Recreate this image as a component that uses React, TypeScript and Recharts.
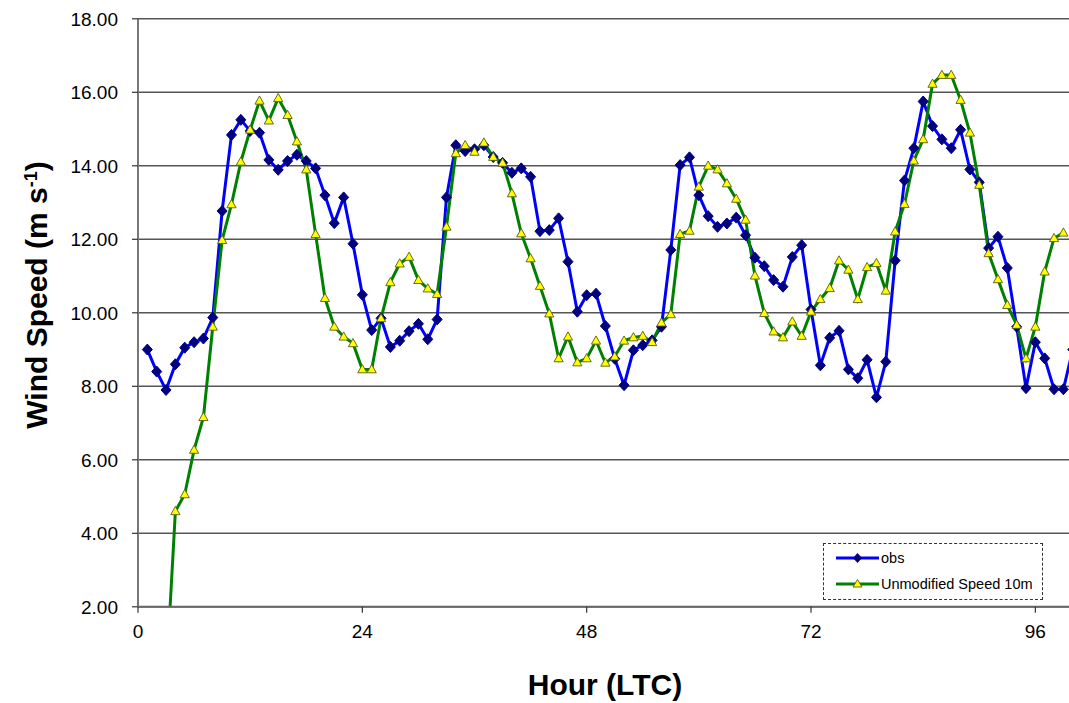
import { LineChart, Line, XAxis, YAxis, CartesianGrid } from 'recharts';

// hourly wind speed (m/s), obs starts at hour 1
const obsSpeed = [
  9.0, 8.4, 7.9, 8.6, 9.05, 9.2, 9.3, 9.87, 12.77, 14.84,
  15.25, 14.95, 14.9, 14.16, 13.89, 14.13, 14.3, 14.13, 13.93, 13.2,
  12.44, 13.14, 11.88, 10.49, 9.53, 9.85, 9.07, 9.24, 9.5, 9.7,
  9.28, 9.82, 13.14, 14.56, 14.4, 14.45, 14.56, 14.24, 14.08, 13.81,
  13.93, 13.7, 12.22, 12.25, 12.57, 11.39, 10.03, 10.48, 10.52, 9.64,
  8.75, 8.03, 8.98, 9.12, 9.25, 9.62, 11.71, 14.02, 14.23, 13.2,
  12.63, 12.34, 12.43, 12.59, 12.11, 11.5, 11.27, 10.89, 10.71, 11.52,
  11.84, 10.09, 8.57, 9.32, 9.51, 8.46, 8.22, 8.72, 7.7, 8.67,
  11.42, 13.6, 14.48, 15.75, 15.08, 14.72, 14.48, 14.98, 13.9, 13.55,
  11.76, 12.07, 11.22, 9.62, 7.95, 9.2, 8.76, 7.92, 7.92, 9.0,
];

// model run (spin-up from hour 3)
const modelSpeed = [
  null, null, 0, 4.6, 5.06, 6.27, 7.16, 9.62, 11.98, 12.95,
  14.11, 14.98, 15.77, 15.23, 15.84, 15.38, 14.66, 13.9, 12.14, 10.4,
  9.62, 9.35, 9.17, 8.46, 8.46, 9.85, 10.83, 11.34, 11.52, 10.89,
  10.66, 10.51, 12.34, 14.34, 14.56, 14.38, 14.63, 14.24, 14.08, 13.25,
  12.16, 11.48, 10.73, 9.98, 8.76, 9.35, 8.65, 8.76, 9.24, 8.64,
  8.81, 9.24, 9.33, 9.37, 9.2, 9.73, 9.96, 12.14, 12.23, 13.43,
  14.0, 13.9, 13.52, 13.1, 12.53, 11.01, 9.99, 9.49, 9.33, 9.76,
  9.37, 10.03, 10.37, 10.67, 11.42, 11.17, 10.37, 11.24, 11.35, 10.6,
  12.21, 12.96, 14.14, 14.72, 16.23, 16.47, 16.47, 15.79, 14.9, 13.48,
  11.62, 10.91, 10.21, 9.67, 8.76, 9.62, 11.12, 12.03, 12.18, null,
];

const hourTicks = [0, 24, 48, 72, 96];
const speedTicks = [2, 4, 6, 8, 10, 12, 14, 16, 18];

const hours = obsSpeed.map((_, i) => i + 1);
const data = hours.map((hour, i) => ({ hour, obs: obsSpeed[i], model: modelSpeed[i] }));

const FONT = '"Liberation Sans", Arial, Helvetica, sans-serif';

function Diamond(props: any) {
  const { cx, cy, index } = props;
  if (cx == null || cy == null) return <g key={`o-${index}`} />;
  return (
    <path
      key={`o-${index}`}
      d={`M${cx},${cy - 5.5}L${cx + 5},${cy}L${cx},${cy + 5.5}L${cx - 5},${cy}Z`}
      fill="#000080"
      stroke="#000080"
      strokeWidth={1}
    />
  );
}

function Triangle(props: any) {
  const { cx, cy, index } = props;
  if (cx == null || cy == null) return <g key={`m-${index}`} />;
  return (
    <path
      key={`m-${index}`}
      d={`M${cx},${cy - 4.8}L${cx + 4.6},${cy + 3.4}L${cx - 4.6},${cy + 3.4}Z`}
      fill="#ffff00"
      stroke="#5a5a10"
      strokeWidth={0.9}
    />
  );
}

function LegendBox() {
  const rows = [
    { label: 'obs', color: '#0000ff', marker: 'diamond', y: 14 },
    { label: 'Unmodified Speed 10m', color: '#008000', marker: 'triangle', y: 40 },
  ];
  return (
    <div
      style={{
        position: 'absolute',
        left: 823,
        top: 543,
        width: 218,
        height: 55,
        border: '1.5px dashed #333',
        background: '#fff',
        fontFamily: FONT,
        fontSize: 14.5,
        color: '#000',
      }}
    >
      {rows.map(r => (
        <div key={r.label} style={{ position: 'absolute', left: 0, top: r.y - 10, height: 20, width: 218 }}>
          <svg width={56} height={20} style={{ position: 'absolute', left: 10, top: 0 }}>
            <line x1={2} y1={10} x2={45} y2={10} stroke={r.color} strokeWidth={3} />
            {r.marker === 'diamond' ? (
              <path d="M23.5,5L28,10L23.5,15L19,10Z" fill="#000080" />
            ) : (
              <path d="M23.5,5.5L28,13L19,13Z" fill="#ffff00" stroke="#5a5a10" strokeWidth={0.9} />
            )}
          </svg>
          <span style={{ position: 'absolute', left: 57, top: 1, lineHeight: '18px', whiteSpace: 'nowrap' }}>
            {r.label}
          </span>
        </div>
      ))}
    </div>
  );
}

export default function App() {
  return (
    <div style={{ position: 'absolute', left: 0, top: 0, width: 1069, height: 703, overflow: 'hidden', background: '#fff' }}>
      <LineChart
        width={1069}
        height={703}
        data={data}
        margin={{ top: 18.8, right: 0, left: 78, bottom: 0 }}
      >
        <CartesianGrid horizontal={true} vertical={false} stroke="#555" strokeWidth={1.6} />
        <XAxis
          dataKey="hour"
          type="number"
          domain={[0, 99.6]}
          ticks={hourTicks}
          allowDataOverflow
          height={96.2}
          axisLine={{ stroke: '#666', strokeWidth: 2 }}
          tickLine={{ stroke: '#333', strokeWidth: 1.2 }}
          tickSize={6}
          tickMargin={12}
          tick={{ fontSize: 19, fill: '#000', fontFamily: FONT }}
        />
        <YAxis
          type="number"
          domain={[2, 18]}
          ticks={speedTicks}
          allowDataOverflow
          width={60}
          axisLine={{ stroke: '#777', strokeWidth: 2 }}
          tickLine={{ stroke: '#333', strokeWidth: 1.2 }}
          tickSize={6}
          tickMargin={14}
          tickFormatter={(v: number) => v.toFixed(2)}
          tick={{ fontSize: 19, fill: '#000', fontFamily: FONT }}
        />
        <Line
          dataKey="obs"
          stroke="#0000ff"
          strokeWidth={3}
          dot={Diamond}
          activeDot={false}
          isAnimationActive={false}
        />
        <Line
          dataKey="model"
          stroke="#008000"
          strokeWidth={3}
          dot={Triangle}
          activeDot={false}
          connectNulls={false}
          isAnimationActive={false}
        />
      </LineChart>
      <svg width={1069} height={703} style={{ position: 'absolute', left: 0, top: 0, pointerEvents: 'none' }}>
        <text
          x={47}
          y={295}
          transform="rotate(-90 47 295)"
          textAnchor="middle"
          fontFamily={FONT}
          fontWeight="bold"
          fontSize={30}
          fill="#000"
        >
          Wind Speed (m s<tspan baselineShift="super" fontSize={18}>-1</tspan>)
        </text>
        <text x={605} y={695} textAnchor="middle" fontFamily={FONT} fontWeight="bold" fontSize={30} fill="#000">
          Hour (LTC)
        </text>
      </svg>
      <LegendBox />
    </div>
  );
}
